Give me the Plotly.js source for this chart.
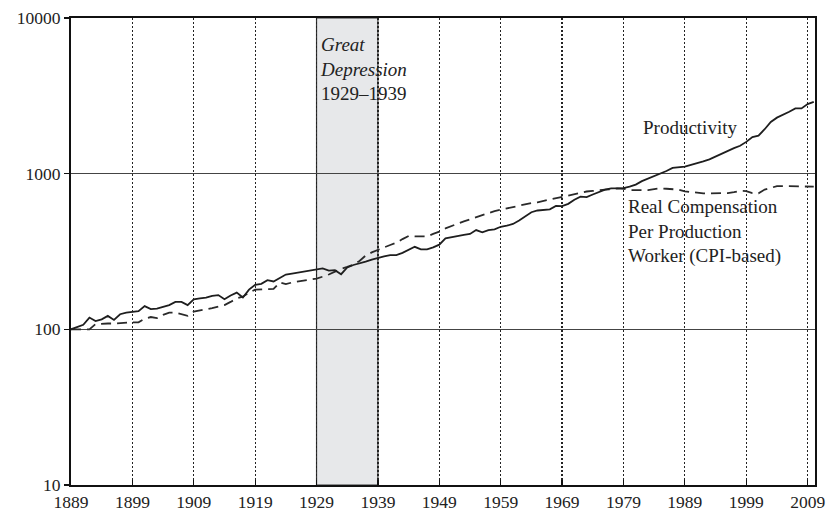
<!DOCTYPE html>
<html>
<head>
<meta charset="utf-8">
<script src="https://cdn.plot.ly/plotly-3.0.1.min.js"></script>
<style>html,body{margin:0;padding:0;background:#fff;}#chart{width:830px;height:517px;}</style>
</head>
<body>
<div id="chart"></div>
<script>
var startYear = 1889;
var productivity = [
100,104,107,119,113,116,122,115,125,128,
130,131,141,135,136,139,143,150,150,143,
156,158,160,164,166,156,165,172,160,180,
193,196,207,203,215,225,228,231,234,238,
242,246,238,240,226,250,259,264,272,280,
288,294,300,300,310,323,339,326,326,336,
350,384,392,398,405,410,434,420,434,439,
456,463,475,500,534,565,580,584,590,620,
619,640,680,712,707,735,760,790,805,805,
808,825,850,895,930,966,995,1040,1090,1105,
1110,1140,1165,1200,1236,1290,1340,1400,1460,1510,
1600,1720,1755,1930,2150,2290,2380,2500,2627,2627,
2800,2890
];
var compensation = [
100,100,100,100,108,109,109,109,110,110,
111,111,117,120,118,124,128,128,125,122,
130,132,135,137,140,143,150,158,162,172,
180,180,180,182,200,195,200,203,207,209,
212,218,225,235,245,252,260,275,298,312,
322,336,348,360,380,398,396,395,395,410,
424,445,462,479,494,509,525,542,560,575,
586,598,610,625,635,648,655,668,680,700,
710,720,740,755,768,775,785,790,795,805,
800,785,785,785,785,795,805,800,797,790,
770,760,750,747,747,747,747,750,760,775,
773,750,747,790,810,832,832,832,832,830,
828,825
];
var years = productivity.map(function(_, i){ return startYear + i; });
var tickYears = [1889,1899,1909,1919,1929,1939,1949,1959,1969,1979,1989,1999,2009];
var yTicks = [10,100,1000,10000];
var yTickLabels = ["10","100","1000","10000"];
var depression = [1929, 1939];

var serif = "Liberation Serif, Times New Roman, serif";
var ink = "#222";

var traces = [
  {x: years, y: compensation, type: "scatter", mode: "lines",
   line: {color: "#2a2a2a", width: 1.8, dash: "10px,6px"}, hoverinfo: "skip"},
  {x: years, y: productivity, type: "scatter", mode: "lines",
   line: {color: "#1e1e1e", width: 1.8}, hoverinfo: "skip"}
];

var layout = {
  width: 830, height: 517,
  margin: {l: 71, r: 15, t: 18, b: 32},
  paper_bgcolor: "#fff", plot_bgcolor: "#fff",
  showlegend: false,
  font: {family: serif, size: 17, color: ink},
  xaxis: {
    range: [1889, 2010.2], tickmode: "array", tickvals: tickYears,
    ticktext: tickYears.map(String),
    showgrid: true, gridcolor: "#222", gridwidth: 1.2, griddash: "2px,2px",
    zeroline: false, showline: true, linecolor: "#111", linewidth: 1.6, mirror: true,
    ticks: "inside", ticklen: 5, tickcolor: "#111", tickwidth: 1.2,
    tickfont: {family: serif, size: 17.5, color: ink}
  },
  yaxis: {
    type: "log", range: [1, 4], tickmode: "array", tickvals: yTicks, ticktext: yTickLabels,
    showgrid: true, gridcolor: "#444", gridwidth: 1.6,
    zeroline: false, showline: true, linecolor: "#111", linewidth: 2, mirror: true,
    ticks: "outside", ticklen: 5, tickcolor: "#111", tickwidth: 1.2,
    tickfont: {family: serif, size: 17.5, color: ink}
  },
  shapes: [
    {type: "rect", xref: "x", yref: "paper", x0: depression[0], x1: depression[1], y0: 0, y1: 1,
     fillcolor: "#e7e8ea", line: {color: "#333", width: 1.2}, layer: "below"}
  ],
  annotations: [
    {xref: "x", yref: "paper", x: 1929.3, y: 0.97, xanchor: "left", yanchor: "top",
     text: "<i>Great<br>Depression</i><br>1929–1939", align: "left", showarrow: false,
     font: {family: serif, size: 19, color: ink}},
    {xref: "x", yref: "paper", x: 1989.9, y: 0.7645, xanchor: "center", yanchor: "middle",
     text: "Productivity", showarrow: false, font: {family: serif, size: 19, color: ink}},
    {xref: "x", yref: "paper", x: 1979.4, y: 0.542, xanchor: "left", yanchor: "middle",
     text: "Real Compensation<br>Per Production<br>Worker (CPI-based)", align: "left", showarrow: false,
     font: {family: serif, size: 19, color: ink}}
  ]
};

Plotly.newPlot("chart", traces, layout, {staticPlot: true, displayModeBar: false});
</script>
</body>
</html>
